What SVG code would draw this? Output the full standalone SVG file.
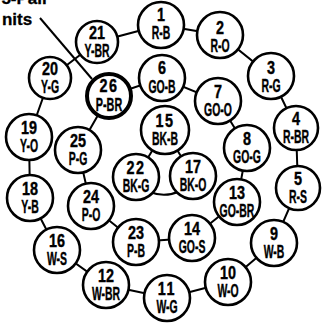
<svg xmlns="http://www.w3.org/2000/svg" width="323" height="324" viewBox="0 0 323 324">
<style>
.c{fill:#fff;stroke:#000;stroke-width:2.6}
.thick{stroke-width:4}
.ln{stroke:#000;stroke-width:2;fill:none}
text{font-family:"Liberation Sans",Arial,sans-serif;font-weight:bold;fill:#000;stroke:#000;stroke-width:0.4;text-anchor:middle}
.n{font-size:18px}
.l{font-size:18px}
.t{font-size:17px;stroke-width:0.3}
</style>
<rect width="323" height="324" fill="#fff"/>
<text class="t" x="25" y="4">5-Pair</text>
<text class="t" x="17" y="25">nits</text>
<g id="connectors">
<line class="ln" x1="40" y1="18" x2="92" y2="79"/>
<polyline class="ln" points="161,25 220,35 271,76 296,128 298,188 274,243 228,282 167,298 106,285 57,250 30,198 29,137 50,78 97,42 161,25"/>
<polyline class="ln" points="109,96 162,78 218,101 247,148 237,202 192,238 136,242 91,206 78,150 109,96"/>
<line class="ln" x1="165" y1="130" x2="136" y2="177"/>
<line class="ln" x1="165" y1="130" x2="193" y2="176"/>
<path class="ln" d="M150,192 Q165,198 180,191"/>
</g>
<g id="n1" transform="translate(161,25)"><circle class="c" r="23"/><text class="n" y="-4" transform="scale(0.8 1)">1</text><text class="l" y="14" transform="scale(0.58 1)">R-B</text></g>
<g id="n2" transform="translate(220,35)"><circle class="c" r="23"/><text class="n" y="-1" transform="scale(0.8 1)">2</text><text class="l" y="17" transform="scale(0.58 1)">R-O</text></g>
<g id="n3" transform="translate(271,76)"><circle class="c" r="23"/><text class="n" y="-2" transform="scale(0.8 1)">3</text><text class="l" y="16" transform="scale(0.58 1)">R-G</text></g>
<g id="n4" transform="translate(296,128)"><circle class="c" r="22"/><text class="n" y="-3" transform="scale(0.8 1)">4</text><text class="l" y="15" transform="scale(0.58 1)">R-BR</text></g>
<g id="n5" transform="translate(298,188)"><circle class="c" r="22"/><text class="n" y="-3" transform="scale(0.8 1)">5</text><text class="l" y="15" transform="scale(0.58 1)">R-S</text></g>
<g id="n9" transform="translate(274,243)"><circle class="c" r="23"/><text class="n" y="-3" transform="scale(0.8 1)">9</text><text class="l" y="15" transform="scale(0.58 1)">W-B</text></g>
<g id="n10" transform="translate(228,282)"><circle class="c" r="23"/><text class="n" y="-3" transform="scale(0.8 1)">10</text><text class="l" y="15" transform="scale(0.58 1)">W-O</text></g>
<g id="n11" transform="translate(167,298)"><circle class="c" r="23"/><text class="n" y="-3" transform="scale(0.8 1)" letter-spacing="2">11</text><text class="l" y="15" transform="scale(0.58 1)">W-G</text></g>
<g id="n12" transform="translate(106,285)"><circle class="c" r="23"/><text class="n" y="-3" transform="scale(0.8 1)">12</text><text class="l" y="15" transform="scale(0.58 1)">W-BR</text></g>
<g id="n16" transform="translate(57,250)"><circle class="c" r="23"/><text class="n" y="-3" transform="scale(0.8 1)">16</text><text class="l" y="15" transform="scale(0.58 1)">W-S</text></g>
<g id="n18" transform="translate(30,198)"><circle class="c" r="23"/><text class="n" y="-3" transform="scale(0.8 1)">18</text><text class="l" y="15" transform="scale(0.58 1)">Y-B</text></g>
<g id="n19" transform="translate(29,137)"><circle class="c" r="23"/><text class="n" y="-3" transform="scale(0.8 1)">19</text><text class="l" y="15" transform="scale(0.58 1)">Y-O</text></g>
<g id="n20" transform="translate(50,78)"><circle class="c" r="21"/><text class="n" y="-3" transform="scale(0.8 1)">20</text><text class="l" y="15" transform="scale(0.58 1)">Y-G</text></g>
<g id="n21" transform="translate(97,42)"><circle class="c" r="21"/><text class="n" y="-3" transform="scale(0.8 1)">21</text><text class="l" y="15" transform="scale(0.58 1)">Y-BR</text></g>
<g id="n6" transform="translate(162,78)"><circle class="c" r="23"/><text class="n" y="-4" transform="scale(0.8 1)">6</text><text class="l" y="15" transform="scale(0.58 1)">GO-B</text></g>
<g id="n7" transform="translate(218,101)"><circle class="c" r="23"/><text class="n" y="-3" transform="scale(0.8 1)">7</text><text class="l" y="15" transform="scale(0.58 1)">GO-O</text></g>
<g id="n8" transform="translate(247,148)"><circle class="c" r="23"/><text class="n" y="-3" transform="scale(0.8 1)">8</text><text class="l" y="15" transform="scale(0.58 1)">GO-G</text></g>
<g id="n13" transform="translate(237,202)"><circle class="c" r="23"/><text class="n" y="-3" transform="scale(0.8 1)">13</text><text class="l" y="15" transform="scale(0.58 1)">GO-BR</text></g>
<g id="n14" transform="translate(192,238)"><circle class="c" r="23"/><text class="n" y="-3" transform="scale(0.8 1)">14</text><text class="l" y="15" transform="scale(0.58 1)">GO-S</text></g>
<g id="n23" transform="translate(136,242)"><circle class="c" r="23"/><text class="n" y="-3" transform="scale(0.8 1)">23</text><text class="l" y="15" transform="scale(0.58 1)">P-B</text></g>
<g id="n24" transform="translate(91,206)"><circle class="c" r="23"/><text class="n" y="-3" transform="scale(0.8 1)">24</text><text class="l" y="15" transform="scale(0.58 1)">P-O</text></g>
<g id="n25" transform="translate(78,150)"><circle class="c" r="23"/><text class="n" y="-3" transform="scale(0.8 1)">25</text><text class="l" y="15" transform="scale(0.58 1)">P-G</text></g>
<g id="n26" transform="translate(109,96)"><circle class="c thick" r="22"/><text class="n" y="-4" transform="scale(0.8 1)" letter-spacing="2">26</text><text class="l" y="15" transform="scale(0.6 1)">P-BR</text></g>
<g id="n15" transform="translate(165,130)"><circle class="c" r="24"/><text class="n" y="-3" transform="scale(0.8 1)" letter-spacing="2">15</text><text class="l" y="15" transform="scale(0.58 1)">BK-B</text></g>
<g id="n22" transform="translate(136,177)"><circle class="c" r="23"/><text class="n" y="-3" transform="scale(0.8 1)" letter-spacing="2">22</text><text class="l" y="15" transform="scale(0.58 1)">BK-G</text></g>
<g id="n17" transform="translate(193,176)"><circle class="c" r="23"/><text class="n" y="-3" transform="scale(0.8 1)">17</text><text class="l" y="15" transform="scale(0.58 1)">BK-O</text></g>
</svg>
